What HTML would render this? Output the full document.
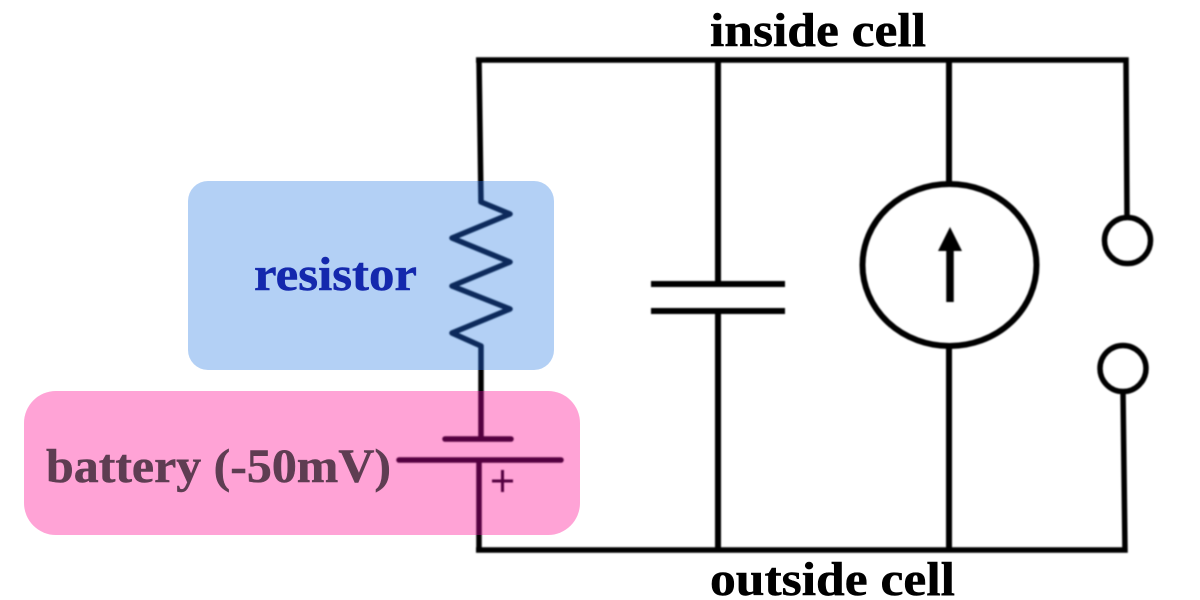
<!DOCTYPE html>
<html><head><meta charset="utf-8"><style>
html,body{margin:0;padding:0;background:#fff}
svg{display:block}
text{font-family:"Liberation Serif",serif;font-weight:700;font-size:48px;stroke-width:.5px}
</style></head><body>
<svg width="1200" height="600" viewBox="0 0 1200 600" xmlns="http://www.w3.org/2000/svg">
<defs>
<filter id="b" x="-5%" y="-5%" width="110%" height="110%"><feGaussianBlur stdDeviation="0.7"/></filter>
<clipPath id="cb"><rect x="188" y="181" width="366" height="189" rx="20"/></clipPath>
<clipPath id="cp"><rect x="24" y="391" width="556" height="144" rx="32"/></clipPath>
<g id="L" fill="none" stroke-width="5.5" stroke-linejoin="round" stroke-linecap="butt">
<path d="M479 60L481 202L510 214L452 238L510 262L452 286L510 309L452 333L481 346V439"/>
<path d="M445 439H511M399 460H561" stroke-linecap="round"/>
<path d="M479 460V550"/>
<path d="M492 481H513M502.500 470V492" stroke-width="3"/>
</g>
</defs>
<g filter="url(#b)">
<g fill="none" stroke="#000" stroke-width="5.5">
<use href="#L"/>
<path d="M476 550H1125L1123 392"/>
<path d="M476 60H1126L1127 216"/>
<path d="M718 60V284M651 284H785M651 311H785M718 311V550" stroke-width="6"/>
<path d="M949 60V184M949 346V550" stroke-width="6"/>
<ellipse cx="949.500" cy="265" rx="87" ry="81" stroke-width="6"/>
<circle cx="1127.500" cy="240.500" r="23"/>
<circle cx="1123" cy="368.500" r="23"/>
<path d="M950 245V302" stroke-width="7.500"/>
</g>
<path d="M950 227L938 251H962Z" fill="#000"/>
</g>
<rect x="188" y="181" width="366" height="189" rx="20" fill="#b3d0f5"/>
<rect x="24" y="391" width="556" height="144" rx="32" fill="#ffa3d6"/>
<g clip-path="url(#cb)"><g filter="url(#b)"><use href="#L" stroke="#0a2a5c"/></g></g>
<g clip-path="url(#cp)"><g filter="url(#b)"><use href="#L" stroke="#55003f"/></g></g>
<text x="710" y="46" fill="#000" stroke="#000" textLength="216" lengthAdjust="spacingAndGlyphs">inside cell</text>
<text x="710" y="595" fill="#000" stroke="#000" textLength="245" lengthAdjust="spacingAndGlyphs">outside cell</text>
<text x="254" y="290" fill="#1428ad" stroke="#1428ad" textLength="163" lengthAdjust="spacingAndGlyphs">resistor</text>
<text x="46" y="482" fill="#5e3d52" stroke="#5e3d52" textLength="345" lengthAdjust="spacingAndGlyphs">battery (-50mV)</text>
</svg>
</body></html>
